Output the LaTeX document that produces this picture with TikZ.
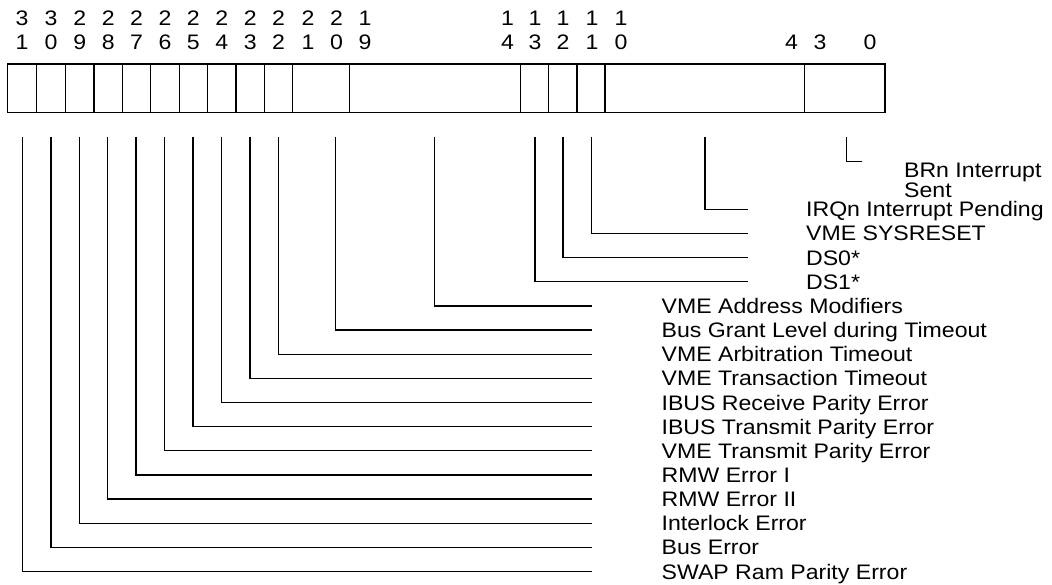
\documentclass[tikz,border=0pt]{standalone}
\usepackage{fontspec}
\setmainfont{Liberation Sans}[FakeStretch=1.1]
\usetikzlibrary{positioning, calc}

\tikzset{
  bitnum/.style={inner sep=0pt, font=\fontsize{21}{24}\selectfont},
  fieldlbl/.style={anchor=west, inner sep=0pt, text height=15pt, text depth=0pt, font=\fontsize{21}{24}\selectfont},
}

\begin{document}
\begin{tikzpicture}[x=1pt, y=-1pt, line width=1.3pt]
\useasboundingbox (0,0) rectangle (1052,585);

% register outline and field dividers
\draw (7.3,64) rectangle (885,112.7);
\foreach \x in {36.7,65.3,94,122.3,150.7,179.3,207.3,236,264.3,292.7,349.3,520.5,548.5,577,605,804.5}
  \draw (\x,64) -- (\x,112.7);

% bit numbers, tens row then units row
\foreach \b/\x/\d in {31/22/3, 30/51/3, 29/79.7/2, 28/108.2/2, 27/136.5/2, 26/165/2, 25/193.3/2, 24/221.7/2, 23/250.2/2, 22/278.5/2, 21/308/2, 20/336.5/2, 19/365/1, 14/507.5/1, 13/535/1, 12/563/1, 11/592/1, 10/621/1}
  \node (hi\b) [bitnum] at (\x,18.5) {\d};
\foreach \b/\x/\d in {31/22/1, 30/51/0, 29/79.7/9, 28/108.2/8, 27/136.5/7, 26/165/6, 25/193.3/5, 24/221.7/4, 23/250.2/3, 22/278.5/2, 21/308/1, 20/336.5/0, 19/365/9, 14/507.5/4, 13/535/3, 12/563/2, 11/592/1, 10/621/0, 4/791.5/4, 3/820/3, 0/870/0}
  \node (lo\b) [bitnum] at (\x,42.5) {\d};

% BRn field
\coordinate (s16) at (846.5,136.7);
\coordinate (brnend) at (861.7,161.7);
\node (brn) [anchor=base west, inner sep=0pt, align=left, font=\fontsize{21}{20}\selectfont] at (903.5,197.3) {BRn Interrupt\\Sent};
\draw (s16) |- (brnend);

% upper fields
\foreach \x/\k/\txt in {705/0/IRQn Interrupt Pending, 591.5/1/VME SYSRESET, 563/2/DS0*, 535/3/DS1*} {
  \coordinate (s\k) at (\x,136.7);
  \node (f\k) [fieldlbl] at (805.5,209.3+24.15*\k) {\txt};
  \draw (s\k) |- ([xshift=-57.5pt]f\k.west);
}

% lower fields
\foreach \x/\k/\txt in {434.5/4/VME Address Modifiers, 335.3/5/Bus Grant Level during Timeout, 278.3/6/VME Arbitration Timeout, 250/7/VME Transaction Timeout, 221.5/8/IBUS Receive Parity Error, 193/9/IBUS Transmit Parity Error, 164.7/10/VME Transmit Parity Error, 136/11/RMW Error I, 107.7/12/RMW Error II, 79.3/13/Interlock Error, 51/14/Bus Error, 22.7/15/SWAP Ram Parity Error} {
  \coordinate (s\k) at (\x,136.7);
  \node (f\k) [fieldlbl] at (661,209.3+24.15*\k) {\txt};
  \draw (s\k) |- ([xshift=-69pt]f\k.west);
}
\end{tikzpicture}
\end{document}
